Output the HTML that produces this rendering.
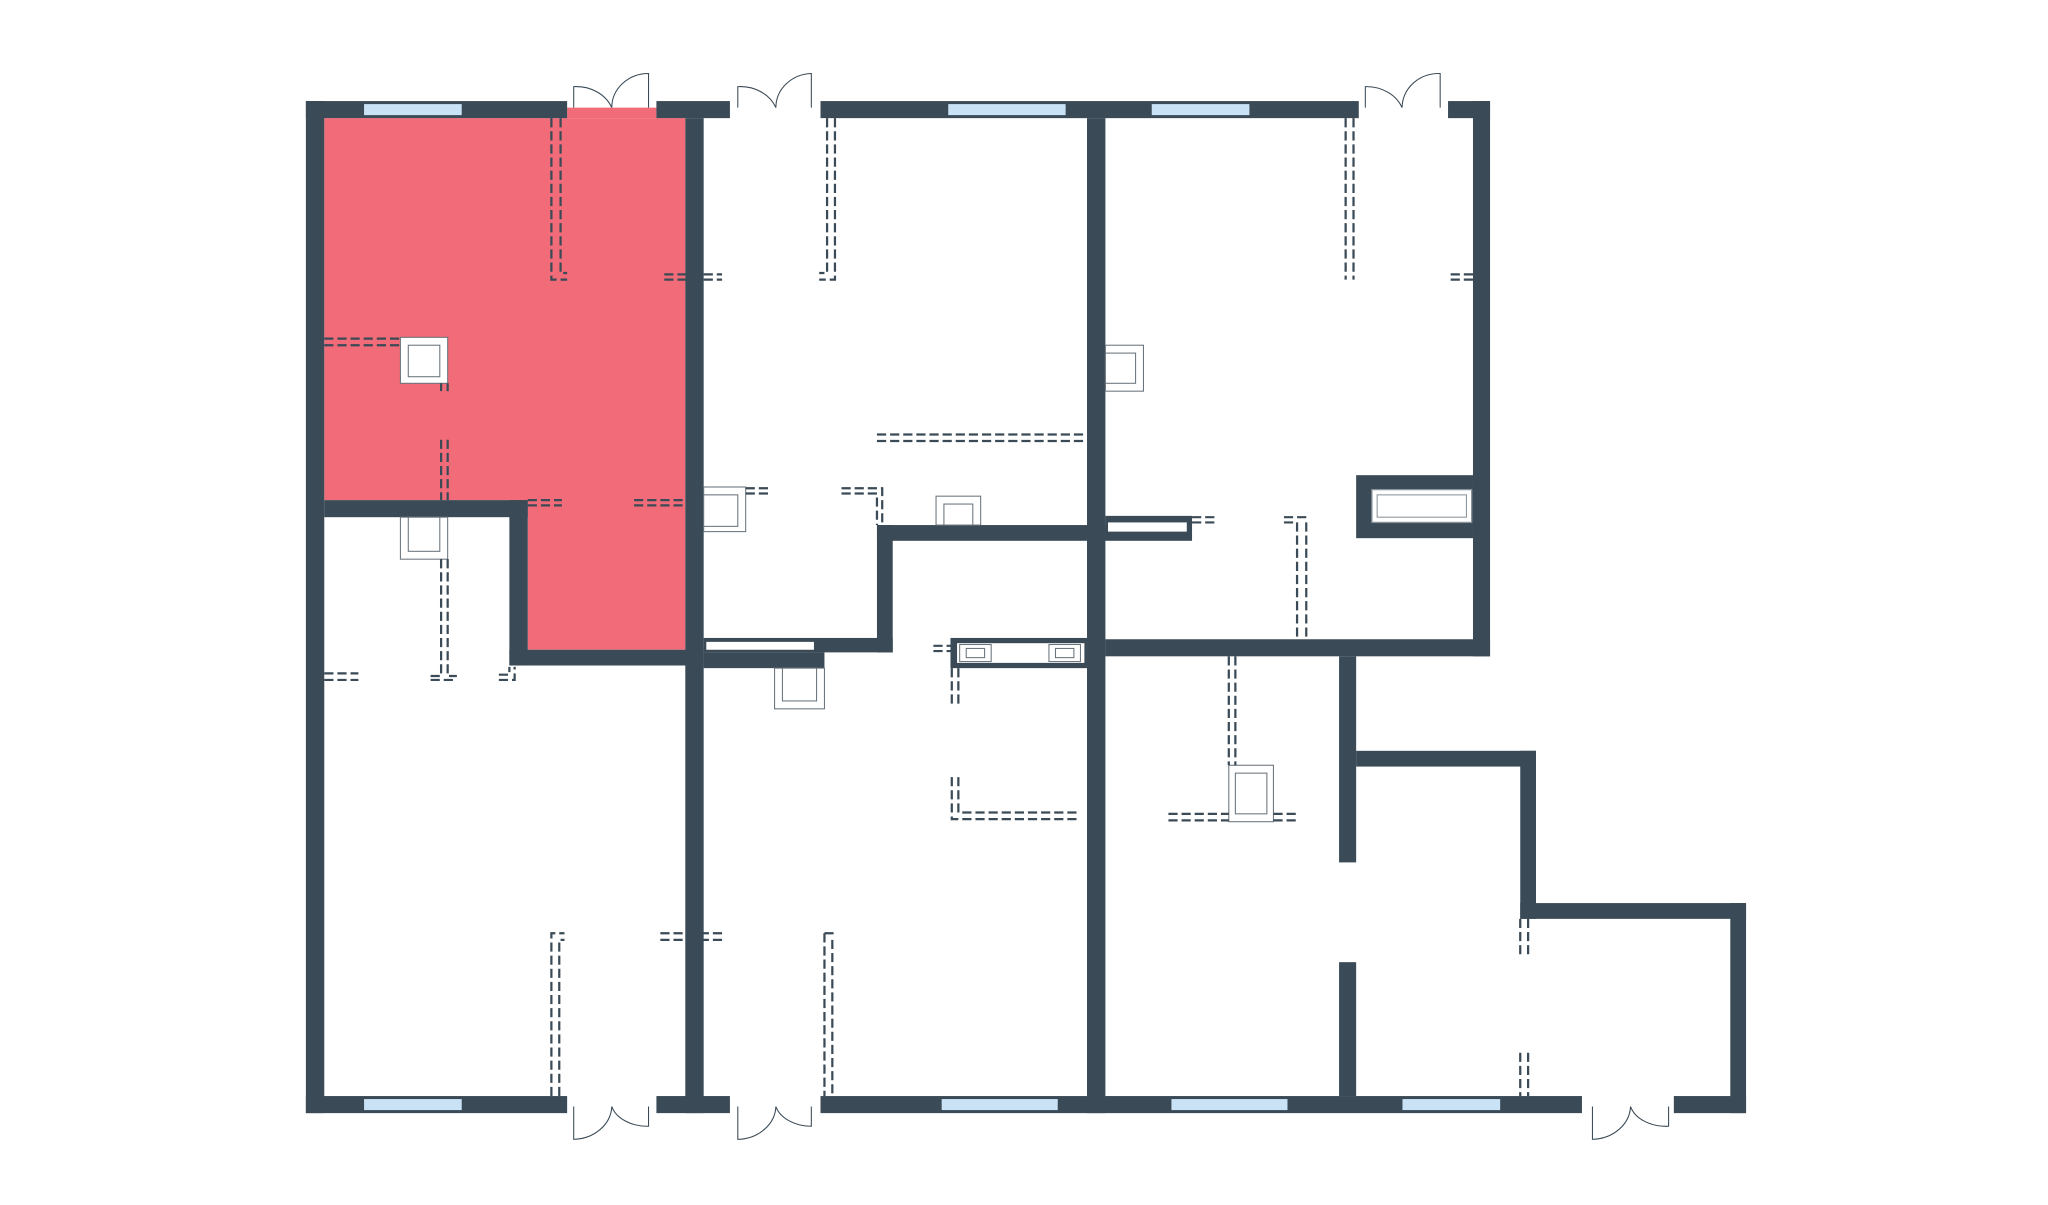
<!DOCTYPE html>
<html><head><meta charset="utf-8"><style>
html,body{margin:0;padding:0;background:#fff}
svg{display:block}
.w{fill:#3a4a56}
.win{fill:#c9e2f6;stroke:#3a4a56;stroke-width:0.6}
.d{fill:none;stroke:#3a4a56;stroke-width:1.7;stroke-dasharray:7 3}
.o{fill:#fff;stroke:#6a747c;stroke-width:0.8}
.dr{fill:none;stroke:#3a4a56;stroke-width:0.8}
</style></head><body>
<svg width="2048" height="1205" viewBox="0 0 1560 918" preserveAspectRatio="none" xmlns="http://www.w3.org/2000/svg">
<path d="M247 90H522V495H402V381H247Z" fill="#f26b78"/>
<rect x="432" y="82" width="68" height="8" fill="#f26b78"/>
<rect class="w" x="233" y="77" width="199" height="13"/>
<rect class="w" x="500" y="77" width="56" height="13"/>
<rect class="w" x="625" y="77" width="410" height="13"/>
<rect class="w" x="1103" y="77" width="32" height="13"/>
<rect class="w" x="233" y="77" width="14" height="771"/>
<rect class="w" x="233" y="835" width="199" height="13"/>
<rect class="w" x="500" y="835" width="56" height="13"/>
<rect class="w" x="625" y="835" width="580" height="13"/>
<rect class="w" x="1275" y="835" width="55" height="13"/>
<rect class="w" x="1122" y="77" width="13" height="423"/>
<rect class="win" x="277" y="79" width="75" height="9"/>
<rect class="win" x="722" y="79" width="90" height="9"/>
<rect class="win" x="877" y="79" width="75" height="9"/>
<rect class="win" x="277" y="837" width="75" height="9"/>
<rect class="win" x="717" y="837" width="89" height="9"/>
<rect class="win" x="892" y="837" width="89" height="9"/>
<rect class="win" x="1068" y="837" width="75" height="9"/>
<rect class="w" x="522" y="90" width="14" height="758"/>
<rect class="w" x="247" y="381" width="155" height="13"/>
<rect class="w" x="388" y="381" width="14" height="126"/>
<rect class="w" x="388" y="495" width="148" height="12"/>
<rect class="w" x="828" y="90" width="14" height="758"/>
<rect class="w" x="668" y="400" width="174" height="12"/>
<rect class="w" x="668" y="400" width="12" height="97"/>
<rect class="w" x="536" y="486" width="144" height="11"/>
<rect x="538" y="489" width="82" height="6" fill="#fff"/>
<rect class="w" x="536" y="497" width="92" height="12"/>
<rect class="w" x="842" y="393" width="66" height="19"/>
<rect x="844" y="398" width="60" height="7" fill="#fff"/>
<rect class="w" x="1033" y="362" width="89" height="48"/>
<rect x="1045" y="373" width="76" height="25" fill="#fff" stroke="#8a939a" stroke-width="1"/>
<rect x="1049" y="377" width="68" height="17" fill="none" stroke="#8a939a" stroke-width="0.8"/>
<rect class="w" x="842" y="487" width="293" height="13"/>
<rect class="w" x="1020" y="500" width="13" height="157"/>
<rect class="w" x="1020" y="733" width="13" height="102"/>
<rect class="w" x="1033" y="572" width="137" height="12"/>
<rect class="w" x="1158" y="572" width="12" height="128"/>
<rect class="w" x="1158" y="688" width="172" height="12"/>
<rect class="w" x="1318" y="688" width="12" height="160"/>
<rect class="w" x="724" y="486" width="104" height="23"/>
<rect x="729" y="490" width="97" height="15" fill="#fff"/>
<rect class="o" x="731" y="491" width="24" height="13"/><rect class="o" x="736" y="494" width="14" height="7"/>
<rect class="o" x="799" y="491" width="24" height="13"/><rect class="o" x="804" y="494" width="14" height="7"/>
<rect class="o" x="305" y="257" width="36" height="35"/><rect class="o" x="311" y="263" width="24" height="24"/>
<rect class="o" x="305" y="394" width="36" height="32"/><rect class="o" x="311" y="394" width="24" height="26"/>
<rect class="o" x="536" y="371" width="32" height="34"/><rect class="o" x="536" y="377" width="26" height="24"/>
<rect class="o" x="713" y="378" width="34" height="22"/><rect class="o" x="719" y="384" width="22" height="16"/>
<rect class="o" x="842" y="263" width="29" height="35"/><rect class="o" x="842" y="269" width="23" height="23"/>
<rect class="o" x="590" y="509" width="38" height="31"/><rect class="o" x="596" y="509" width="26" height="25"/>
<rect class="o" x="936" y="583" width="34" height="43"/><rect class="o" x="941" y="589" width="24" height="31"/>
<g class="d">
<path d="M420 90V213H432M427 90V208H432"/>
<path d="M506 209H550M506 213H550"/>
<path d="M630 90V208H624M636 90V213H624"/>
<path d="M1025 90V213M1031 90V213"/>
<path d="M1105 209H1122M1105 213H1122"/>
<path d="M247 258H305M247 263H305"/>
<path d="M336 292V298M341 292V298"/>
<path d="M336 335V381M341 335V381"/>
<path d="M336 426V515H328M341 426V515H348M328 518H348"/>
<path d="M402 381H428M402 385H428"/>
<path d="M483 381H522M483 385H522"/>
<path d="M568 372H588M568 376H588"/>
<path d="M668 331H828M668 336H828"/>
<path d="M641 372H672V400M641 376H668V400"/>
<path d="M908 394H925M908 398H925"/>
<path d="M978 394H998M978 398H988V487M995 398V487"/>
<path d="M247 513H273M247 518H273"/>
<path d="M380 518H392V508M380 514H388V508"/>
<path d="M711 492H724M711 496H724"/>
<path d="M725 509V538M730 509V538"/>
<path d="M725 592V624H822M730 592V619H822"/>
<path d="M936 500V583M941 500V583"/>
<path d="M890 620H936M890 625H936"/>
<path d="M970 620H988M970 625H988"/>
<path d="M1158 700V728M1164 700V728"/>
<path d="M1158 802V835M1164 802V835"/>
<path d="M420 835V711H430M426 835V716H430"/>
<path d="M503 711H553M503 716H553"/>
<path d="M628 711V835M634 716V835M628 711H636"/>
</g>
<g class="dr">
<path d="M437 82V66A29 25 0 0 1 466 82M494 82V56A28 26 0 0 0 466 82"/>
<path d="M562 82V66A29 25 0 0 1 591 82M618 82V56A28 26 0 0 0 591 82"/>
<path d="M1040 82V66A29 25 0 0 1 1068 82M1097 82V56A28 26 0 0 0 1068 82"/>
<path d="M437 843V868A30 26 0 0 0 466 843M494 843V858A28 20 0 0 1 466 843"/>
<path d="M562 843V868A30 26 0 0 0 591 843M618 843V858A28 20 0 0 1 591 843"/>
<path d="M1213 843V868A30 26 0 0 0 1242 843M1271 843V858A28 20 0 0 1 1242 843"/>
</g>
</svg>
</body></html>
